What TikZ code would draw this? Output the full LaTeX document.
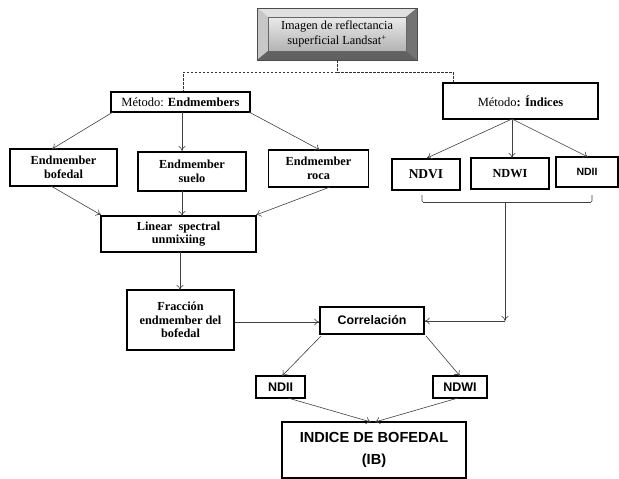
\documentclass[tikz,border=0pt]{standalone}
\usepackage{fontspec}
\setmainfont{Liberation Serif}
\newfontfamily\arialf{Liberation Sans}
\usetikzlibrary{arrows.meta}
\begin{document}
\begin{tikzpicture}[x=1pt,y=-1pt,
  box/.style={draw=black,line width=1.6pt,fill=white,inner sep=1pt,align=center,font=\bfseries\fontsize{12.3}{13.5}\selectfont},
  sbox/.style={box,font=\arialf\bfseries\fontsize{12.4}{14}\selectfont},
  arr/.style={draw=black!75,line width=0.6pt,-{To[length=5pt,width=7pt]}},
  dsh/.style={draw=black!80,line width=0.6pt,dashed,dash pattern=on 2.5pt off 1.5pt}]
\useasboundingbox (0,0) rectangle (619,479);
% top bevel box
\fill[black!35] (257,8) rectangle (417,60);
\fill[black!12] (257,8) -- (417,8) -- (406,17) -- (268,17) -- cycle;
\fill[black!22] (257,8) -- (268,17) -- (268,51) -- (257,60) -- cycle;
\fill[black!55] (417,8) -- (406,17) -- (406,51) -- (417,60) -- cycle;
\fill[black!62] (257,60) -- (268,51) -- (406,51) -- (417,60) -- cycle;
\shade[top color=black!8,bottom color=black!30] (268,17) rectangle (406,51);
\draw[black!70,line width=0.8pt] (257,8) rectangle (417,60);
\draw[black!60,line width=0.4pt] (268,17) rectangle (406,51);
\node[align=center,inner sep=0pt,font=\fontsize{12.3}{15}\selectfont] (top) at (337,34) {Imagen de reflectancia\\superficial Landsat\textsuperscript{+}};
\coordinate (topb) at (337,60);
\coordinate (dj) at (337,72);
\coordinate (dl) at (183,72);
\coordinate (dr) at (453,72);
% method boxes
\node[box,minimum width=139pt,minimum height=20pt,font=\fontsize{12.5}{13}\selectfont] (endm) at (180.5,102) {Método: \textbf{Endmembers}};
\node[box,minimum width=155pt,minimum height=36pt,font=\fontsize{12.5}{13}\selectfont] (ind) at (520.5,101) {Método\textbf{: Índices}};
\draw[dsh] (topb) -- (dj) -- (dl) -- (dl |- endm.north);
\draw[dsh] (dj) -- (dr) -- (dr |- ind.north);
% endmember boxes
\node[box,minimum width=107pt,minimum height=37pt] (bof) at (63.5,167.5) {Endmember\\bofedal};
\node[box,minimum width=108pt,minimum height=39pt] (sue) at (192,171.5) {Endmember\\suelo};
\node[box,minimum width=100pt,minimum height=37pt] (roc) at (318.5,168.5) {Endmember\\roca};
\draw[arr] (113,112) -- (52,149);
\draw[arr] (182,112) -- (182,151);
\draw[arr] (249,112) -- (320,150);
% index boxes
\node[box,minimum width=68pt,minimum height=31pt,font=\bfseries\fontsize{13.5}{14}\selectfont] (ndvi) at (426,174.5) {NDVI};
\node[box,minimum width=78pt,minimum height=31pt] (ndwi) at (510,173.5) {NDWI};
\node[sbox,minimum width=62pt,minimum height=30pt,font=\arialf\bfseries\fontsize{10.5}{12}\selectfont] (ndii) at (587,172) {NDII};
\draw[arr] (512,119) -- (427,158);
\draw[arr] (512,119) -- (512,158);
\draw[arr] (512,119) -- (588,157);
% brace
\draw[black!75,line width=0.6pt,rounded corners=1.5pt] (422,195) -- (422,202.5) -- (592,202.5) -- (592,195);
\coordinate (bm) at (505,208);
\draw[black!75,line width=0.6pt] (505,202.5) -- (bm);
\coordinate (bc) at (505,321);
% linear
\node[box,minimum width=155pt,minimum height=36pt] (lin) at (178.5,234) {Linear\ \ spectral\\unmixiing};
\draw[arr] (51,186) -- (101,215);
\draw[arr] (182,191) -- (182,216);
\draw[arr] (330,187) -- (256,215);
% fraccion
\node[box,minimum width=107pt,minimum height=60pt] (fra) at (180.5,320) {Fracción\\endmember del\\bofedal};
\draw[arr] (180,252) -- (180,290);
% correlacion
\node[sbox,minimum width=104pt,minimum height=27pt] (cor) at (372,320.5) {Correlación};
\draw[arr] (fra.east |- 0,322) -- (cor.west |- 0,322);
\draw[arr] (bm) -- (bc);
\draw[arr] (bc) -- (cor.east |- bc);
% bottom
\node[sbox,minimum width=49pt,minimum height=22pt,font=\arialf\bfseries\fontsize{12.5}{14}\selectfont] (ndii2) at (280.5,387) {NDII};
\node[sbox,minimum width=54pt,minimum height=22pt,font=\arialf\bfseries\fontsize{12.5}{14}\selectfont] (ndwi2) at (460,387) {NDWI};
\draw[arr] (321,336) -- (282,376);
\draw[arr] (426,336) -- (460,376);
\node[sbox,minimum width=184pt,minimum height=56pt,font=\arialf\bfseries\fontsize{14.6}{22}\selectfont] (ib) at (374,450) {INDICE DE BOFEDAL\\(IB)};
\draw[arr] (288,398) -- (371,422);
\draw[arr] (458,398) -- (375,422);
\end{tikzpicture}
\end{document}
